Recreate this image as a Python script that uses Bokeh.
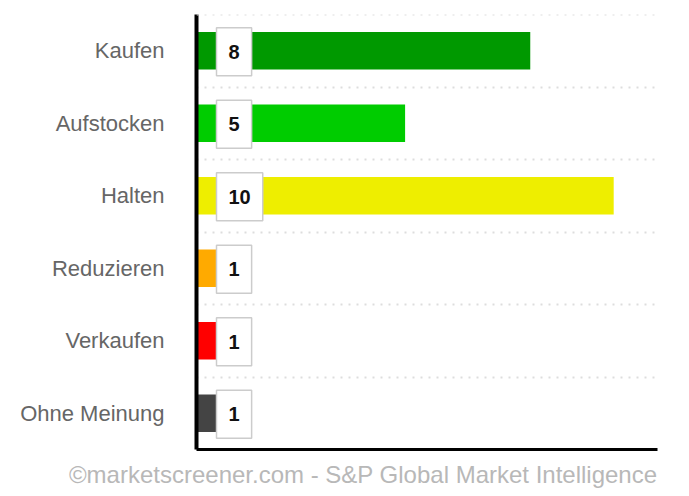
from bokeh.plotting import figure
from bokeh.models import FactorRange, Range1d, Label, FixedTicker, Span, Title
from bokeh.embed import file_html
from bokeh.resources import INLINE

categories = ["Kaufen", "Aufstocken", "Halten", "Reduzieren", "Verkaufen", "Ohne Meinung"]
counts = [8, 5, 10, 1, 1, 1]
colors = ["#009900", "#00cc00", "#eeee00", "#ffaa00", "#ff0000", "#444444"]
credit = "\u00a9marketscreener.com - S&P Global Market Intelligence"

FONT = "Liberation Sans"
n = len(categories)
XMAX = 11.05

p = figure(width=689, height=496, output_backend="svg", toolbar_location=None,
           y_range=FactorRange(*reversed(categories), range_padding=0),
           x_range=Range1d(0, XMAX),
           min_border_left=196, min_border_right=32, min_border_top=14, min_border_bottom=46)
p.outline_line_color = None
p.background_fill_color = "white"
p.border_fill_color = "white"

p.hbar(y=categories, right=counts, left=0, height=0.52, color=colors, line_color=None)

# value boxes (y in synthetic categorical coordinates: centre of each factor band)
for k, v in enumerate(counts):
    ypos = (n - 1 - k) + 0.5
    lab = Label(x=0, y=ypos, text=str(v), x_offset=20, y_offset=-1, text_align="left",
                text_baseline="middle",
                text_font=FONT, text_font_size="20px", text_font_style="bold", text_color="#111111",
                background_fill_color="white", border_line_color="#cccccc", border_line_width=1.5,
                padding=(12, 17))
    p.add_layout(lab)

# axes
p.yaxis.axis_line_color = "black"
p.yaxis.axis_line_width = 4
p.yaxis.major_tick_line_color = None
p.yaxis.minor_tick_line_color = None
p.yaxis.major_label_standoff = 26
p.yaxis.major_label_text_font = FONT
p.yaxis.major_label_text_font_size = "22px"
p.yaxis.major_label_text_color = "#666666"

p.xaxis.ticker = FixedTicker(ticks=[])
p.xaxis.axis_line_color = "black"
p.xaxis.axis_line_width = 3
p.xaxis.major_tick_line_color = None
p.xaxis.minor_tick_line_color = None
p.xaxis.major_label_standoff = 0

p.xgrid.grid_line_color = None
p.ygrid.ticker = FixedTicker(ticks=list(range(1, n)))
p.ygrid.grid_line_color = "#dddddd"
p.ygrid.grid_line_width = 2
p.ygrid.grid_line_dash = "2 6"
p.add_layout(Span(location=n, dimension="width", line_color="#dddddd", line_width=2, line_dash="2 6"))

p.add_layout(Title(text=credit, align="right", text_font=FONT, text_font_size="24px",
                   text_font_style="normal", text_color="#b8b8b8", standoff=18), "below")

open("out.html", "w").write(file_html(p, INLINE))
